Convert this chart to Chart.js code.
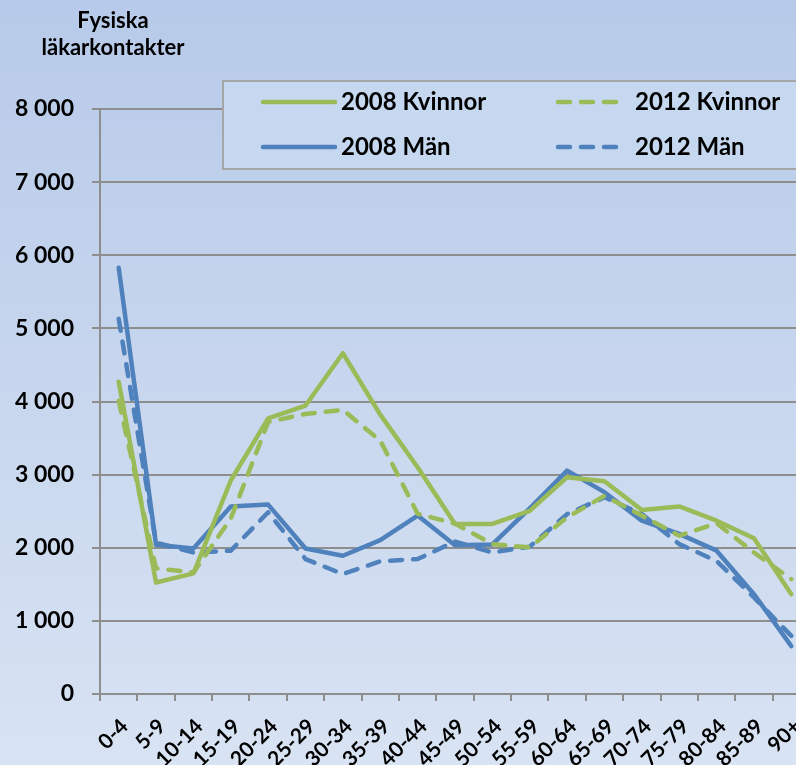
<!DOCTYPE html>
<html>
<head>
<meta charset="utf-8">
<script src="https://cdn.jsdelivr.net/npm/chart.js@4/dist/chart.umd.min.js"></script>
<style>
    html, body { margin: 0; padding: 0; overflow: hidden; }
    #wrap { width: 796px; height: 765px; overflow: hidden; }
</style>
</head>
<body>
<div id="wrap"><canvas id="chart" width="810" height="765"></canvas></div>
<script>
const AGE_GROUPS = ["0-4", "5-9", "10-14", "15-19", "20-24", "25-29", "30-34", "35-39", "40-44",
    "45-49", "50-54", "55-59", "60-64", "65-69", "70-74", "75-79", "80-84", "85-89", "90+"];
const WOMEN_2008 = [4270, 1525, 1650, 2920, 3770, 3945, 4660, 3820, 3100, 2325, 2325, 2505, 2965, 2910, 2515, 2565, 2370, 2130, 1365];
const WOMEN_2012 = [4010, 1720, 1660, 2400, 3720, 3830, 3885, 3465, 2465, 2330, 2050, 2005, 2415, 2710, 2440, 2165, 2335, 1935, 1570];
const MEN_2008 = [5830, 2040, 1990, 2565, 2590, 1990, 1890, 2105, 2440, 2035, 2045, 2540, 3055, 2760, 2370, 2190, 1960, 1365, 655];
const MEN_2012 = [5130, 2070, 1935, 1960, 2485, 1845, 1640, 1815, 1845, 2085, 1935, 2015, 2460, 2690, 2460, 2050, 1820, 1320, 795];
const Y_TICKS = [0, 1000, 2000, 3000, 4000, 5000, 6000, 7000, 8000];
const Y_TITLE = ["Fysiska", "läkarkontakter"];

const GREEN = "#9bbb59",
    BLUE = "#4f81bd",
    GRID = "#8e8e8e",
    FONT = "Lato, 'Open Sans', sans-serif",
    DASH = [12, 11],
    LINE_WIDTH = 4.5;

function series(label, data, color, dashed) {
    return {
        label: label,
        data: data,
        borderColor: color,
        backgroundColor: color,
        borderWidth: LINE_WIDTH,
        borderDash: dashed ? DASH : [],
        borderCapStyle: "round",
        borderJoinStyle: "round",
        pointRadius: 0,
        tension: 0,
        fill: false,
    };
}

const backdrop = {
    id: "backdrop",
    beforeDraw(chart) {
        const ctx = chart.ctx;
        const g = ctx.createLinearGradient(0, 0, 0, chart.height);
        g.addColorStop(0, "#b7cae9");
        g.addColorStop(1, "#d8e3f3");
        ctx.save();
        ctx.fillStyle = g;
        ctx.fillRect(0, 0, chart.width, chart.height);
        ctx.restore();
    },
    afterDraw(chart) {
        const ctx = chart.ctx;
        ctx.save();
        // axis title
        ctx.fillStyle = "#000";
        ctx.font = "bold 22px " + FONT;
        ctx.textAlign = "center";
        ctx.textBaseline = "middle";
        ctx.fillText(Y_TITLE[0], 113, 21);
        ctx.fillText(Y_TITLE[1], 113, 48);

        // legend box
        ctx.fillStyle = "#c6d8f0";
        ctx.fillRect(223, 81, 580, 88);
        ctx.strokeStyle = "#a6a6a6";
        ctx.lineWidth = 2;
        ctx.strokeRect(223, 81, 580, 88);

        const items = [
            [chart.data.datasets[0], 263, 102],
            [chart.data.datasets[1], 558, 102],
            [chart.data.datasets[2], 263, 147],
            [chart.data.datasets[3], 558, 147],
        ];
        items.forEach(([ds, x, y]) => {
            ctx.beginPath();
            ctx.strokeStyle = ds.borderColor;
            ctx.lineWidth = LINE_WIDTH;
            ctx.lineCap = "round";
            ctx.setLineDash(ds.borderDash);
            const len = ds.borderDash.length ? 62 : 72;
            ctx.moveTo(x, y);
            ctx.lineTo(x + len, y);
            ctx.stroke();
            ctx.setLineDash([]);
            ctx.fillStyle = "#000";
            ctx.font = "bold 24px " + FONT;
            ctx.textAlign = "left";
            ctx.fillText(ds.label, ds.borderDash.length ? 635 : 341, y);
        });
        ctx.restore();
    },
};

new Chart(document.getElementById("chart"), {
    type: "line",
    data: {
        labels: AGE_GROUPS,
        datasets: [
            series("2008 Kvinnor", WOMEN_2008, GREEN, false),
            series("2012 Kvinnor", WOMEN_2012, GREEN, true),
            series("2008 Män", MEN_2008, BLUE, false),
            series("2012 Män", MEN_2012, BLUE, true),
        ],
    },
    options: {
        responsive: false,
        animation: false,
        devicePixelRatio: 1,
        layout: {
            padding: { top: 109, left: 0, right: 0, bottom: 0 },
        },
        plugins: {
            legend: { display: false },
            tooltip: { enabled: false },
        },
        scales: {
            x: {
                offset: true,
                grid: {
                    offset: true,
                    drawOnChartArea: false,
                    drawTicks: true,
                    tickLength: 7,
                    color: GRID,
                    lineWidth: 2,
                },
                border: { color: GRID, width: 2 },
                ticks: {
                    autoSkip: false,
                    minRotation: 45,
                    maxRotation: 45,
                    padding: 13,
                    labelOffset: 6,
                    color: "#000",
                    font: { family: FONT, size: 21, weight: "bold" },
                },
                afterFit(scale) {
                    scale.height = 71;
                    scale.paddingLeft = 0;
                    scale.paddingRight = 0;
                },
            },
            y: {
                min: 0,
                max: 8000,
                afterBuildTicks(scale) {
                    scale.ticks = Y_TICKS.map((v) => ({ value: v }));
                },
                grid: {
                    color: GRID,
                    lineWidth: 2,
                    tickLength: 8,
                },
                border: { color: GRID, width: 2 },
                ticks: {
                    padding: 18,
                    color: "#000",
                    font: { family: FONT, size: 23, weight: "bold" },
                    callback: (v) => (v === 0 ? "0" : v / 1000 + " 000"),
                },
                afterFit(scale) {
                    scale.width = 100;
                },
            },
        },
    },
    plugins: [backdrop],
});
</script>
</body>
</html>
